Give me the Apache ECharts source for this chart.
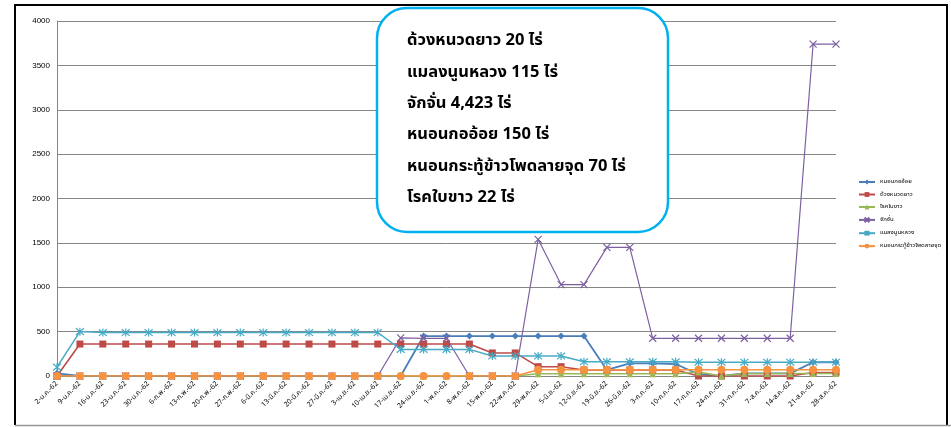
<!DOCTYPE html>
<html>
<head>
<meta charset="utf-8">
<script src="https://cdn.jsdelivr.net/npm/echarts@6/dist/echarts.min.js"></script>
<style>
html,body{margin:0;padding:0;background:#fff;}
#chart{width:951px;height:427px;}
</style>
</head>
<body>
<div id="chart"></div>
<script>
var categories = ["2-ม.ค.-62","9-ม.ค.-62","16-ม.ค.-62","23-ม.ค.-62","30-ม.ค.-62","6-ก.พ.-62","13-ก.พ.-62","20-ก.พ.-62","27-ก.พ.-62","6-มี.ค.-62","13-มี.ค.-62","20-มี.ค.-62","27-มี.ค.-62","3-เม.ย.-62","10-เม.ย.-62","17-เม.ย.-62","24-เม.ย.-62","1-พ.ค.-62","8-พ.ค.-62","15-พ.ค.-62","22-พ.ค.-62","29-พ.ค.-62","5-มิ.ย.-62","12-มิ.ย.-62","19-มิ.ย.-62","26-มิ.ย.-62","3-ก.ค.-62","10-ก.ค.-62","17-ก.ค.-62","24-ก.ค.-62","31-ก.ค.-62","7-ส.ค.-62","14-ส.ค.-62","21-ส.ค.-62","28-ส.ค.-62"];

var seriesNames = ["หนอนกออ้อย","ด้วงหนวดยาว","โรคใบขาว","จักจั่น","แมลงนูนหลวง","หนอนกระทู้ข้าวโพดลายจุด"];

var nonKaOiyValues = [30,0,0,0,0,0,0,0,0,0,0,0,0,0,0,0,450,450,450,450,450,450,450,450,68,143,143,135,20,0,30,30,30,155,155];
var duangValues = [0,360,360,360,360,360,360,360,360,360,360,360,360,360,360,360,360,360,360,260,260,105,105,68,68,68,68,68,0,0,0,0,0,40,40];
var rokBaiKhaoValues = [0,0,0,0,0,0,0,0,0,0,0,0,0,0,0,0,0,0,0,0,0,25,25,25,25,25,25,25,45,0,28,28,28,28,28];
var jakjanValues = [0,0,0,0,0,0,0,0,0,0,0,0,0,0,0,430,425,425,0,0,0,1540,1030,1030,1450,1450,425,425,425,425,425,425,425,3740,3740];
var maelangNoonValues = [100,500,490,490,490,490,490,490,490,490,490,490,490,490,490,300,300,300,300,225,225,225,225,160,160,160,160,160,155,155,155,155,155,155,155];
var nonKraThuValues = [0,0,0,0,0,0,0,0,0,0,0,0,0,0,0,0,0,0,0,0,0,70,70,70,70,70,70,70,70,70,70,70,70,70,70];

var yTicks = {min: 0, max: 4000, interval: 500};

var noteLines = ["ด้วงหนวดยาว 20 ไร่","แมลงนูนหลวง 115 ไร่","จักจั่น 4,423 ไร่","หนอนกออ้อย 150 ไร่","หนอนกระทู้ข้าวโพดลายจุด 70 ไร่","โรคใบขาว 22 ไร่"];

var colors = ["#4A7EBB","#BE4B48","#98B954","#7D60A0","#46AAC5","#F69240"];
var symbols = ["diamond","rect","triangle","path://M0,0L10,10M10,0L0,10","path://M0,0L10,10M10,0L0,10M5,-1L5,11","circle"];
var symbolSizes = [7,7,7,7,8,8];
var lineWidths = [1.8,1.6,1.6,1.2,1.5,1.6];
var allValues = [nonKaOiyValues,duangValues,rokBaiKhaoValues,jakjanValues,maelangNoonValues,nonKraThuValues];

var series = seriesNames.map(function(n,i){
  var isPath = symbols[i].indexOf('path://')===0;
  return {
    name: n, type: 'line', data: allValues[i],
    symbol: symbols[i], symbolSize: symbolSizes[i], showAllSymbol: true,
    lineStyle: {color: colors[i], width: lineWidths[i]},
    itemStyle: isPath ? {color: colors[i], borderColor: colors[i], borderWidth: 1.2} : {color: colors[i]},
    emphasis: {disabled: true},
    animation: false
  };
});

var thaiFont = "Tahoma, 'Noto Sans Thai', 'Noto Sans', 'DejaVu Sans', sans-serif";

var graphics = [
  {type:'line', shape:{x1:15,y1:5,x2:15,y2:425}, style:{stroke:'#000',lineWidth:2}, z:100},
  {type:'line', shape:{x1:14,y1:5,x2:948,y2:5}, style:{stroke:'#000',lineWidth:2}, z:100},
  {type:'line', shape:{x1:947,y1:5,x2:947,y2:425}, style:{stroke:'#000',lineWidth:2}, z:100},
  {type:'line', shape:{x1:15,y1:425.5,x2:951,y2:425.5}, style:{stroke:'#999',lineWidth:1.5}, z:100},
  {type:'rect', shape:{x:377,y:8,width:291,height:224,r:30}, style:{fill:'#fff',stroke:'#00B0F0',lineWidth:2.5}, z:100}
];
noteLines.forEach(function(t,i){
  graphics.push({type:'text', x:407, y:42 + i*31.3, z:101,
    style:{text:t, fill:'#000', font:"bold 16.5px " + thaiFont, textVerticalAlign:'middle', textAlign:'left'}});
});

var chart = echarts.init(document.getElementById('chart'), null, {renderer:'canvas'});
chart.setOption({
  animation: false,
  backgroundColor: '#fff',
  color: colors,
  grid: {left: 57, right: 115, top: 21, bottom: 51, containLabel: false},
  legend: {
    orient: 'vertical', left: 853, top: 174, itemGap: 6.5,
    itemWidth: 16, itemHeight: 6,
    textStyle: {fontSize: 6, color: '#000', fontFamily: thaiFont},
    data: seriesNames
  },
  xAxis: {
    type: 'category', data: categories, boundaryGap: false,
    axisLine: {lineStyle: {color: '#868686', width: 1}},
    axisTick: {show: false},
    axisLabel: {rotate: 45, fontSize: 7, color: '#000', interval: 0, margin: 7, fontFamily: thaiFont},
    splitLine: {show: false}
  },
  yAxis: {
    type: 'value', min: yTicks.min, max: yTicks.max, interval: yTicks.interval,
    axisLine: {show: true, lineStyle: {color: '#868686', width: 1}},
    axisTick: {show: false},
    axisLabel: {fontSize: 8, color: '#000', margin: 7, fontFamily: "'Liberation Sans', Arial, sans-serif",
      formatter: function(v){ return String(v); }},
    splitLine: {lineStyle: {color: '#868686', width: 1}}
  },
  series: series,
  graphic: graphics
});
</script>
</body>
</html>
